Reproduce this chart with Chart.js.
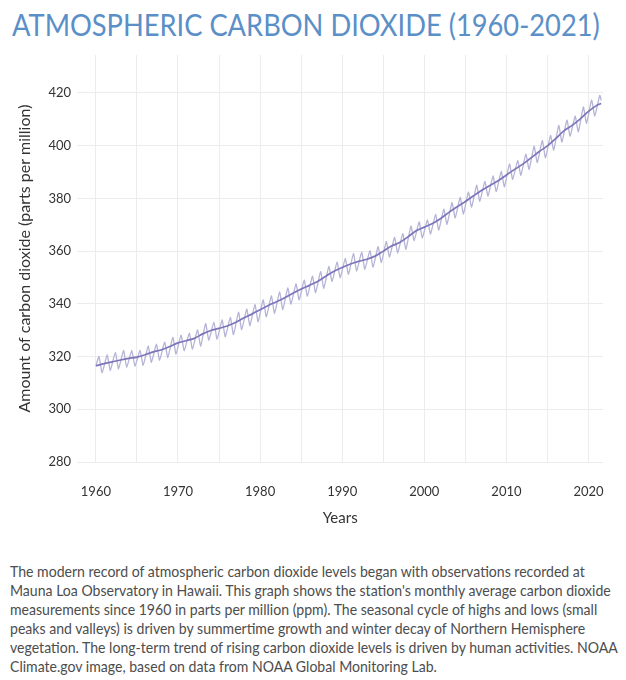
<!DOCTYPE html>
<html>
<head>
<meta charset="utf-8">
<script src="https://cdn.jsdelivr.net/npm/chart.js@4/dist/chart.umd.min.js"></script>
<style>
  html, body { margin: 0; padding: 0; background: #fff; }
  body { width: 626px; height: 680px; position: relative; overflow: hidden; font-family: Lato, "Open Sans", sans-serif; }
  #title { position: absolute; left: 12px; top: 4px; font-size: 30px; line-height: 40px; color: #5b8fc7; white-space: nowrap; transform-origin: 0 0; font-weight: 400; }
  #wrap { position: absolute; left: 0; top: 0; width: 626px; height: 545px; }
  #caption { position: absolute; left: 10px; top: 562px; font-size: 15px; line-height: 19px; color: #4d4d4d; white-space: nowrap; transform-origin: 0 0; }
</style>
</head>
<body>
<div id="title">ATMOSPHERIC CARBON DIOXIDE (1960-2021)</div>
<div id="wrap"><canvas id="c" width="626" height="545"></canvas></div>
<div id="caption">The modern record of atmospheric carbon dioxide levels began with observations recorded at<br>Mauna Loa Observatory in Hawaii. This graph shows the station's monthly average carbon dioxide<br>measurements since 1960 in parts per million (ppm). The seasonal cycle of highs and lows (small<br>peaks and valleys) is driven by summertime growth and winter decay of Northern Hemisphere<br>vegetation. The long-term trend of rising carbon dioxide levels is driven by human activities. NOAA<br>Climate.gov image, based on data from NOAA Global Monitoring Lab.</div>
<script>
// ---- Data (ppm), read from the Mauna Loa record shown ----
const years = [1960,1961,1962,1963,1964,1965,1966,1967,1968,1969,1970,1971,1972,1973,1974,1975,1976,1977,1978,1979,1980,1981,1982,1983,1984,1985,1986,1987,1988,1989,1990,1991,1992,1993,1994,1995,1996,1997,1998,1999,2000,2001,2002,2003,2004,2005,2006,2007,2008,2009,2010,2011,2012,2013,2014,2015,2016,2017,2018,2019,2020,2021];
// seasonal high of each year (around May)
const seasonalPeaks = [320.0,320.6,321.6,322.3,322.3,322.4,324.0,324.7,325.5,327.3,328.1,328.9,330.1,332.5,333.1,333.9,334.9,336.8,338.0,339.7,341.5,343.0,344.5,346.0,347.6,349.0,350.5,352.2,354.2,355.8,357.2,359.1,359.6,360.2,361.7,363.6,365.2,366.6,369.5,371.1,371.8,373.9,375.9,378.4,380.4,382.4,385.0,386.4,388.5,390.2,393.1,394.3,396.8,399.8,401.9,403.9,407.7,409.7,411.2,414.7,417.3,419.1];
// seasonal low of each year (around late September / October)
const seasonalLows = [313.8,314.8,315.3,315.9,316.3,316.7,317.8,318.6,319.6,320.9,322.2,322.8,324.0,326.2,326.6,327.5,328.3,330.2,331.7,333.2,335.1,336.4,337.8,339.9,341.5,342.9,344.2,345.9,348.5,349.9,351.2,352.4,353.1,353.9,355.7,357.8,359.3,360.7,364.0,365.0,366.5,368.0,370.2,372.6,374.1,376.7,378.9,380.9,382.6,384.4,387.2,388.8,391.0,393.6,395.4,398.3,401.4,403.6,405.3,408.5,411.3];
const seasonalStart = { x: 1960.0, y: 316.4 };
const seasonalEnd = { x: 2021.55, y: 417.2 };
// long-term trend (seasonally adjusted) at the start of each year
const trendValues = [316.5,317.3,318.0,318.7,319.3,319.8,320.7,321.8,322.6,323.8,325.2,326.0,326.9,328.6,329.9,330.7,331.6,332.9,334.6,336.1,337.8,339.4,340.8,342.3,344.0,345.6,347.0,348.5,350.5,352.4,353.8,355.1,356.1,356.9,358.1,360.0,361.9,363.3,365.4,367.7,369.1,370.5,372.4,374.7,376.8,378.8,381.0,383.1,384.9,386.7,388.9,391.0,393.0,395.4,397.8,399.9,402.7,405.6,407.7,410.2,413.0,415.3];
const trendEnd = { x: 2021.55, y: 416.0 };
const xTicks = [1960,1965,1970,1975,1980,1985,1990,1995,2000,2005,2010,2015,2020];
const yTicks = [280,300,320,340,360,380,400,420];

// ---- build series ----
const seasonal = [seasonalStart];
years.forEach((yr, i) => {
  seasonal.push({ x: yr + 0.37, y: seasonalPeaks[i] });
  if (i < seasonalLows.length) seasonal.push({ x: yr + 0.76, y: seasonalLows[i] });
});
seasonal.push(seasonalEnd);
const trend = years.map((yr, i) => ({ x: yr, y: trendValues[i] }));
trend.push(trendEnd);

Chart.defaults.font.family = 'Lato, "Open Sans", sans-serif';
Chart.defaults.color = '#333';

new Chart(document.getElementById('c'), {
  type: 'line',
  data: {
    datasets: [
      { label: 'Trend', data: trend, borderColor: '#7b76ba', borderWidth: 1.7, pointRadius: 0, tension: 0.3, order: 0 },
      { label: 'Monthly', data: seasonal, borderColor: '#b5b3d6', borderWidth: 1.3, pointRadius: 0, tension: 0.15, order: 1 }
    ]
  },
  options: {
    responsive: false,
    animation: false,
    events: [],
    layout: { padding: { top: 55, right: 14, left: 0, bottom: 0 } },
    plugins: { legend: { display: false }, tooltip: { enabled: false } },
    scales: {
      x: {
        type: 'linear',
        min: 1957.7, max: 2021.8,
        afterFit: s => { s.height = 83; },
        afterBuildTicks: ax => { ax.ticks = xTicks.map(v => ({ value: v })); },
        border: { display: false },
        grid: { color: '#ececec', lineWidth: 1, drawTicks: false },
        ticks: { padding: 22, maxRotation: 0, autoSkip: false, font: { size: 13 }, color: '#333',
          callback: v => (v % 10 === 0 ? String(v) : '') },
        title: { display: true, text: 'Years', font: { size: 15 }, color: '#333', padding: { top: 0, bottom: 18 } }
      },
      y: {
        min: 280, max: 434.4,
        afterFit: s => { s.width = 77; },
        afterBuildTicks: ax => { ax.ticks = yTicks.map(v => ({ value: v })); },
        border: { display: false },
        grid: { color: '#ececec', lineWidth: 1, drawTicks: false },
        ticks: { padding: 6, font: { size: 13 }, color: '#333', callback: v => String(v) },
        title: { display: true, text: 'Amount of carbon dioxide (parts per million)', font: { size: 16 }, color: '#333', padding: { top: 15, bottom: 0 } }
      }
    }
  }
});

// fit text blocks horizontally to the reference widths
function fitWidth(el, target) {
  const w = el.scrollWidth;
  if (w > 0) el.style.transform = 'scaleX(' + (target / w) + ')';
}
fitWidth(document.getElementById('title'), 588);
fitWidth(document.getElementById('caption'), 608);
</script>
</body>
</html>
